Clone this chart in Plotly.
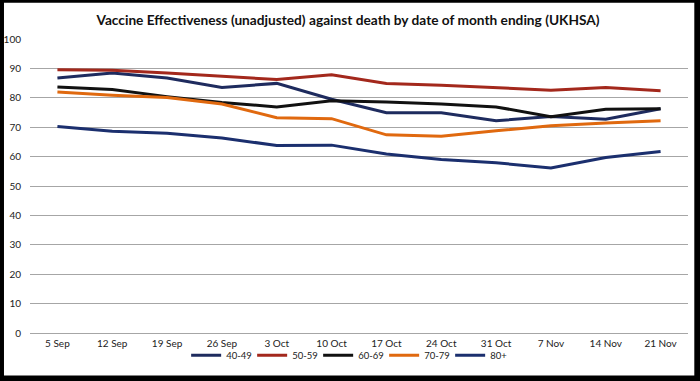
import plotly.graph_objects as go

categories = ["5 Sep", "12 Sep", "19 Sep", "26 Sep", "3 Oct", "10 Oct",
              "17 Oct", "24 Oct", "31 Oct", "7 Nov", "14 Nov", "21 Nov"]
ve_40_49 = [86.7, 88.4, 86.7, 83.5, 84.9, 79.5, 74.9, 74.9, 72.2, 73.6, 72.7, 76.3]
ve_50_59 = [89.5, 89.4, 88.4, 87.2, 86.2, 87.8, 84.9, 84.3, 83.5, 82.6, 83.5, 82.4]
ve_60_69 = [83.7, 82.8, 80.4, 78.4, 76.9, 79.0, 78.6, 77.9, 76.9, 73.6, 76.1, 76.3]
ve_70_79 = [82.0, 80.9, 80.1, 77.9, 73.2, 72.9, 67.4, 66.9, 68.8, 70.5, 71.4, 72.2]
ve_80_plus = [70.2, 68.6, 67.9, 66.3, 63.8, 63.9, 60.9, 59.0, 57.9, 56.1, 59.7, 61.7]
y_ticks = list(range(0, 101, 10))

series = [
    ("40-49", ve_40_49, "#1E2B5E"),
    ("50-59", ve_50_59, "#A3281C"),
    ("60-69", ve_60_69, "#111111"),
    ("70-79", ve_70_79, "#E0690F"),
    ("80+", ve_80_plus, "#1B2F6E"),
]

FONT = "Lato, Liberation Sans, sans-serif"

fig = go.Figure()
for name, vals, color in series:
    fig.add_trace(go.Scatter(x=categories, y=vals, name=name, mode="lines",
                             line=dict(color=color, width=3)))

L, R, T, B = 30, 12.3, 39.3, 48.3
W, H = 700, 381
pw = W - L - R
ph = H - T - B

fig.update_layout(
    width=W, height=H,
    margin=dict(l=L, r=R, t=T, b=B, autoexpand=False),
    paper_bgcolor="black",
    plot_bgcolor="white",
    title=dict(text="<b>Vaccine Effectiveness (unadjusted) against death by date of month ending (UKHSA)</b>",
               x=348 / W, xanchor="center", y=1 - 20 / H, yanchor="middle",
               font=dict(family=FONT, size=13.7, color="#111111")),
    font=dict(family=FONT, size=10, color="#222222"),
    showlegend=True,
    legend=dict(orientation="h", x=(351 - L) / pw, xanchor="center",
                y=(ph - (355 - T)) / ph, yanchor="middle",
                itemwidth=30, entrywidth=21, entrywidthmode="pixels",
                font=dict(size=9.5, color="#222222"),
                bgcolor="rgba(0,0,0,0)"),
    shapes=[dict(type="rect", xref="paper", yref="paper", layer="below",
                 x0=(4 - L) / pw, x1=(694 - L) / pw,
                 y0=(ph - (375 - T)) / ph, y1=(ph - (3 - T)) / ph,
                 fillcolor="white", line=dict(width=0))],
)
fig.update_xaxes(type="category", range=[-0.5, 11.5], showgrid=False,
                 showline=False, ticks="", automargin=False,
                 ticklabelstandoff=3,
                 tickfont=dict(size=10, color="#222222"))
fig.update_yaxes(range=[0, 100], tickvals=y_ticks, showgrid=True,
                 gridcolor="#A6A6A6", gridwidth=1, zeroline=True,
                 zerolinecolor="#A6A6A6", zerolinewidth=1, showline=False,
                 ticks="", ticklabelstandoff=8, automargin=False,
                 tickfont=dict(size=10, color="#222222"))

fig.write_html("out.html", config={"displayModeBar": False},
               post_script="document.body.style.margin='0';document.body.style.padding='0';")
